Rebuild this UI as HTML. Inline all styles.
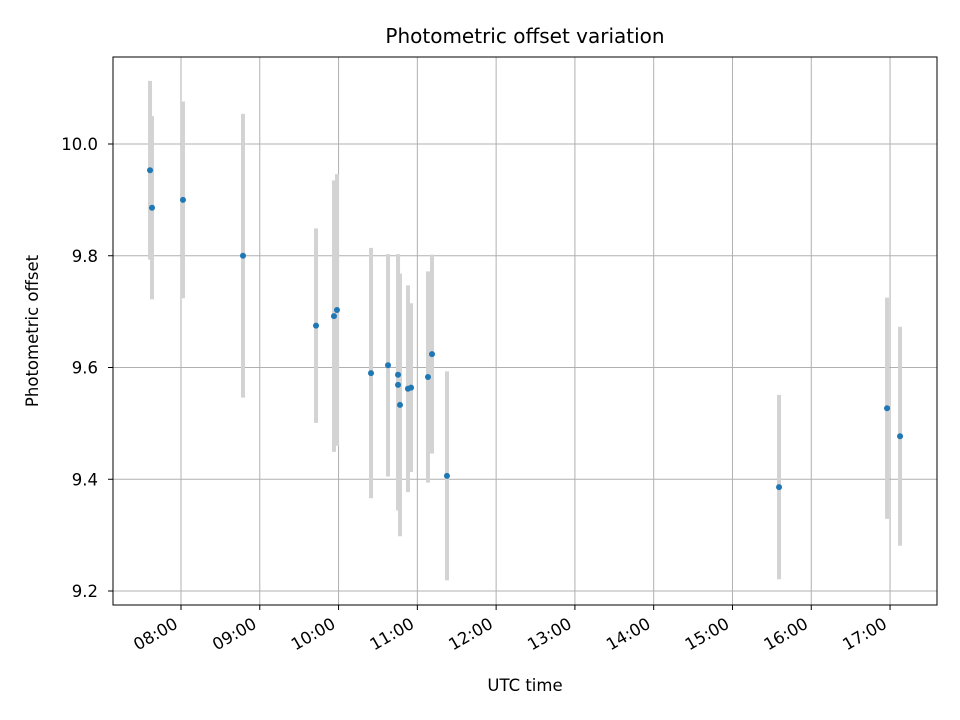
<!DOCTYPE html>
<html><head><meta charset="utf-8"><style>
body{margin:0;background:#fff}
svg{display:block;font-family:"DejaVu Sans","Liberation Sans",sans-serif}
</style></head><body>
<svg id="chart" width="960" height="720" viewBox="0 0 960 720" xmlns="http://www.w3.org/2000/svg">
<rect width="960" height="720" fill="#fff"/>
<text x="525" y="43" font-size="20" text-anchor="middle" fill="#000">Photometric offset variation</text>
<text x="525" y="691" font-size="16.5" text-anchor="middle" fill="#000">UTC time</text>
<text x="0" y="0" font-size="16.5" text-anchor="middle" fill="#000" transform="translate(38,331) rotate(-90)">Photometric offset</text>
<g id="grid"></g><g id="errs"></g><g id="pts"></g><g id="axes"></g>
</svg>
<script>
const times = [7.607,7.632,8.025,8.787,9.714,9.942,9.980,10.412,10.628,10.755,10.755,10.780,10.881,10.920,11.135,11.186,11.376,15.591,16.962,17.127];
const offsets = [9.953,9.886,9.900,9.800,9.675,9.692,9.703,9.590,9.604,9.587,9.569,9.533,9.562,9.564,9.583,9.624,9.406,9.386,9.527,9.477];
const errors = [0.160,0.164,0.176,0.254,0.174,0.243,0.243,0.224,0.199,0.216,0.225,0.235,0.185,0.151,0.189,0.178,0.187,0.165,0.198,0.196];
const xTicks = [8,9,10,11,12,13,14,15,16,17];
const xTickLabels = ["08:00","09:00","10:00","11:00","12:00","13:00","14:00","15:00","16:00","17:00"];
const yTicks = [9.2,9.4,9.6,9.8,10.0];
const yTickLabels = ["9.2","9.4","9.6","9.8","10.0"];

const L=113,R=937,T=57,B=605;
const X0=7.137,X1=17.596;
function sx(h){return L+(h-X0)/(X1-X0)*(R-L);}
function sy(v){return 144+(10-v)*558.75;}
const NS="http://www.w3.org/2000/svg";
function mk(tag,attrs,parent){const e=document.createElementNS(NS,tag);for(const k in attrs)e.setAttribute(k,attrs[k]);parent.appendChild(e);return e;}
const grid=document.getElementById('grid'),errs=document.getElementById('errs'),pts=document.getElementById('pts'),axes=document.getElementById('axes');
xTicks.forEach((t,i)=>{
  const x=sx(t);
  const g=mk('line',{x1:x,x2:x,y1:T,y2:B,stroke:'#b0b0b0','stroke-width':1},grid);
  
  
  const tk=mk('line',{x1:x,x2:x,y1:B,y2:B+5,stroke:'#000','stroke-width':1},axes);
  
  
  const tx=mk('text',{'font-size':16.5,'text-anchor':'end',fill:'#000',transform:`translate(${x-2},${627}) rotate(-30)`},axes);
  tx.textContent=xTickLabels[i];
  
  
});
yTicks.forEach((t,i)=>{
  const y=sy(t);
  const g=mk('line',{x1:L,x2:R,y1:y,y2:y,stroke:'#b0b0b0','stroke-width':1},grid);
  
  
  const tk=mk('line',{x1:L-5,x2:L,y1:y,y2:y,stroke:'#000','stroke-width':1},axes);
  
  
  const tx=mk('text',{x:L-15,y:y+6,'font-size':16.5,'text-anchor':'end',fill:'#000'},axes);
  tx.textContent=yTickLabels[i];
  
  
});
times.forEach((t,i)=>{
  const x=sx(t);
  const e=mk('line',{x1:x,x2:x,y1:sy(offsets[i]+errors[i]),y2:sy(offsets[i]-errors[i]),stroke:'#d3d3d3','stroke-width':4},errs);
  
  
});
times.forEach((t,i)=>{
  const c=mk('circle',{cx:sx(t),cy:sy(offsets[i]),r:3,fill:'#1f77b4'},pts);
  
  
});
const fr=mk('rect',{x:L,y:T,width:R-L,height:B-T,fill:'none',stroke:'#000','stroke-width':1},axes);


</script>
</body></html>
